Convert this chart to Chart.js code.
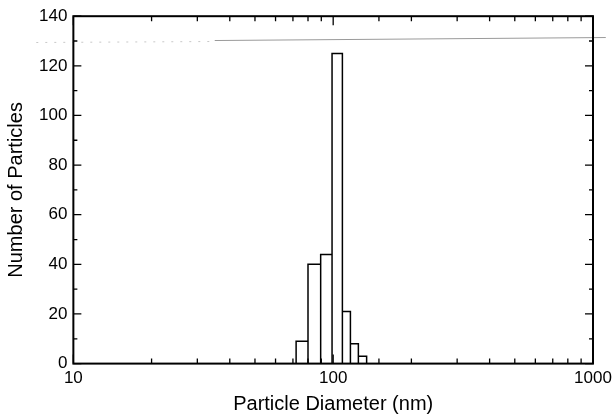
<!DOCTYPE html>
<html>
<head>
<meta charset="utf-8">
<script src="https://cdn.jsdelivr.net/npm/chart.js@4/dist/chart.umd.min.js"></script>
<style>
  html, body { margin: 0; padding: 0; background: #fff; }
  canvas { display: block; }
</style>
</head>
<body>
<canvas id="sizeChart" width="614" height="414"></canvas>
<script>
// histogram of particle diameters (nm)
const binEdges = [72, 80, 89.5, 99, 108.5, 116.5, 125, 134.5];
const counts = [9, 40, 44, 125, 21, 8, 3];

const xTickLabels = [10, 100, 1000];
const yTickLabels = [0, 20, 40, 60, 80, 100, 120, 140];

// faint scan line crossing the top of the figure
const scanDotX = [7.2, 35];
const scanDotY = [129.4, 129.8];
const scanLineX = [35, 1120];
const scanLineY = [130.2, 131.4];

function isDecade(v) {
  const l = Math.log10(v);
  return Math.abs(l - Math.round(l)) < 1e-6;
}

// outline of the bars, one rectangle per bin
const outline = [];
counts.forEach(function (c, i) {
  outline.push({ x: binEdges[i], y: 0 });
  outline.push({ x: binEdges[i], y: c });
  outline.push({ x: binEdges[i + 1], y: c });
  outline.push({ x: binEdges[i + 1], y: 0 });
});

const frameTicks = {
  id: "frameTicks",
  afterDatasetsDraw(chart) {
    const ctx = chart.ctx;
    const a = chart.chartArea;
    const x = chart.scales.x;
    const y = chart.scales.y;
    ctx.save();
    ctx.strokeStyle = "#000";
    ctx.lineWidth = 1.3;
    ctx.beginPath();
    x.ticks.forEach(function (t) {
      const px = x.getPixelForValue(t.value);
      const len = isDecade(t.value) ? 9 : 5;
      ctx.moveTo(px, a.bottom);
      ctx.lineTo(px, a.bottom - len);
      ctx.moveTo(px, a.top);
      ctx.lineTo(px, a.top + len);
    });
    y.ticks.forEach(function (t) {
      const py = y.getPixelForValue(t.value);
      const len = yTickLabels.includes(t.value) ? 8 : 4;
      ctx.moveTo(a.left, py);
      ctx.lineTo(a.left + len, py);
      ctx.moveTo(a.right, py);
      ctx.lineTo(a.right - len, py);
    });
    ctx.stroke();
    ctx.lineWidth = 2;
    ctx.strokeRect(a.left, a.top, a.width, a.height);
    ctx.restore();
  },
};

new Chart(document.getElementById("sizeChart").getContext("2d"), {
  type: "line",
  data: {
    datasets: [
      {
        data: scanDotX.map(function (v, i) { return { x: v, y: scanDotY[i] }; }),
        borderColor: "#c8c8c8",
        borderWidth: 1,
        borderDash: [2, 7],
        pointRadius: 0,
        clip: false,
      },
      {
        data: scanLineX.map(function (v, i) { return { x: v, y: scanLineY[i] }; }),
        borderColor: "#9a9a9a",
        borderWidth: 1,
        pointRadius: 0,
        clip: false,
      },
      {
        data: outline,
        borderColor: "#000",
        borderWidth: 1.5,
        pointRadius: 0,
        tension: 0,
        fill: false,
      },
    ],
  },
  options: {
    responsive: false,
    devicePixelRatio: 1,
    animation: false,
    layout: { padding: { left: 4, right: 0, top: 16, bottom: 0 } },
    plugins: { legend: { display: false }, tooltip: { enabled: false } },
    scales: {
      x: {
        type: "logarithmic",
        min: 10,
        max: 1000,
        afterFit: function (scale) {
          // let the last label sit close to the page edge
          scale.paddingRight = 21;
        },
        grid: { display: false, drawTicks: false },
        border: { display: false },
        ticks: {
          autoSkip: false,
          maxRotation: 0,
          padding: 5,
          color: "#000",
          font: { family: "Liberation Sans, Arial", size: 17 },
          callback: function (value) {
            return xTickLabels.some(function (v) { return Math.abs(v - value) < 1e-6; }) ? String(value) : "";
          },
        },
        title: {
          display: true,
          text: "Particle Diameter (nm)",
          color: "#000",
          font: { family: "Liberation Sans, Arial", size: 20, lineHeight: 1.0 },
          padding: { top: 0, bottom: 0 },
        },
      },
      y: {
        min: 0,
        max: 140,
        grid: { display: false, drawTicks: false },
        border: { display: false },
        ticks: {
          stepSize: 10,
          autoSkip: false,
          padding: 6,
          color: "#000",
          font: { family: "Liberation Sans, Arial", size: 17 },
          callback: function (value) {
            return yTickLabels.includes(value) ? String(value) : "";
          },
        },
        title: {
          display: true,
          text: "Number of Particles",
          color: "#000",
          font: { family: "Liberation Sans, Arial", size: 20 },
          padding: { top: 0, bottom: 5 },
        },
      },
    },
  },
  plugins: [frameTicks],
});
</script>
</body>
</html>
